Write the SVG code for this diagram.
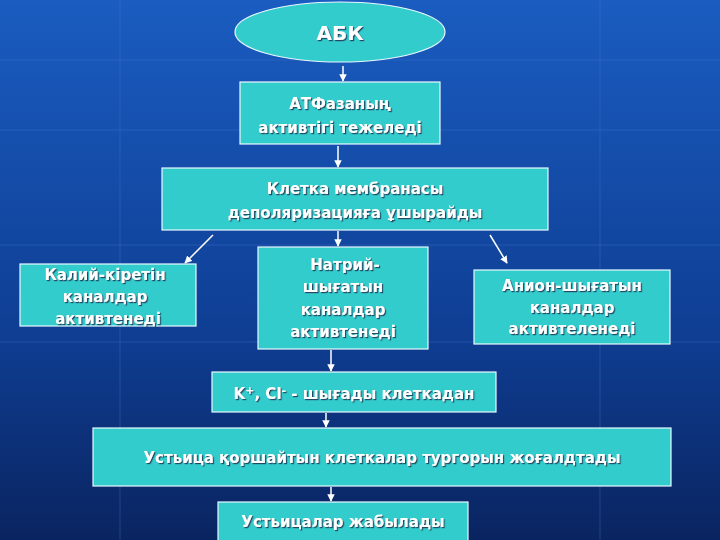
<svg xmlns="http://www.w3.org/2000/svg" width="720" height="540" viewBox="0 0 720 540">
<defs>
<linearGradient id="bg" x1="0" y1="0" x2="0" y2="1"><stop offset="0" stop-color="#1a5cc0"/><stop offset="0.6" stop-color="#0f3f95"/><stop offset="1" stop-color="#0a2460"/></linearGradient>
<marker id="ah" viewBox="0 0 10 10" refX="9" refY="5" markerWidth="5" markerHeight="5" orient="auto"><path d="M0,0 L10,5 L0,10 z" fill="#fff"/></marker>
<filter id="sh" x="-5%" y="-5%" width="110%" height="120%"><feDropShadow dx="1.2" dy="1.2" stdDeviation="0.3" flood-color="#1a3a5a" flood-opacity="0.9"/></filter>
</defs>
<style>
.b{fill:#33cccc;stroke:#e8f8ff;stroke-width:1.2}
.t{font-family:"DejaVu Sans",sans-serif;font-weight:bold;font-size:15px;fill:#fff;text-anchor:middle;filter:url(#sh)}
.c line{stroke:#fff;stroke-width:1.5;marker-end:url(#ah)}
.g line{stroke:#4a7ad0;stroke-width:0.7;opacity:0.5}
</style>
<rect width="720" height="540" fill="url(#bg)"/>
<g class="g"><line x1="0" y1="60" x2="720" y2="60"/><line x1="0" y1="130" x2="720" y2="130"/><line x1="0" y1="245" x2="720" y2="245"/><line x1="0" y1="342" x2="720" y2="342"/><line x1="120" y1="0" x2="120" y2="540"/><line x1="600" y1="0" x2="600" y2="540"/></g>
<g class="c">
<line x1="343" y1="66" x2="343" y2="81"/>
<line x1="338" y1="146" x2="338" y2="167"/>
<line x1="213" y1="235" x2="185" y2="263"/>
<line x1="338" y1="231" x2="338" y2="246"/>
<line x1="490" y1="235" x2="507" y2="263"/>
<line x1="331" y1="350" x2="331" y2="371"/>
<line x1="326" y1="413" x2="326" y2="427"/>
<line x1="331" y1="487" x2="331" y2="501"/>
</g>
<g id="abk"><ellipse class="b" cx="340" cy="32" rx="105" ry="30"/><text class="t" x="340" y="40" style="font-size:20px">АБК</text></g>
<g id="atf"><rect class="b" x="240" y="82" width="200" height="62"/><text class="t" x="340" y="109">АТФазаның</text><text class="t" x="340" y="133">активтігі  тежеледі</text></g>
<g id="kletka"><rect class="b" x="162" y="168" width="386" height="62"/><text class="t" x="355" y="194">Клетка мембранасы</text><text class="t" x="355" y="218">деполяризацияға  ұшырайды</text></g>
<g id="kaliy"><rect class="b" x="20" y="264" width="176" height="62"/><text class="t" x="105" y="280">Калий-кіретін</text><text class="t" x="105" y="302">каналдар</text><text class="t" x="108" y="324">активтенеді</text></g>
<g id="natriy"><rect class="b" x="258" y="247" width="170" height="102"/><text class="t" x="345" y="270">Натрий-</text><text class="t" x="343" y="292">шығатын</text><text class="t" x="343" y="315">каналдар</text><text class="t" x="343" y="337">активтенеді</text></g>
<g id="anion"><rect class="b" x="474" y="270" width="196" height="74"/><text class="t" x="572" y="291">Анион-шығатын</text><text class="t" x="572" y="313">каналдар</text><text class="t" x="572" y="334">активтеленеді</text></g>
<g id="kcl"><rect class="b" x="212" y="372" width="284" height="40"/><text class="t" x="354" y="399">K<tspan dy="-5" font-size="11">+</tspan><tspan dy="5">, Cl</tspan><tspan dy="-5" font-size="11">-</tspan><tspan dy="5">  - шығады клеткадан</tspan></text></g>
<g id="ustica"><rect class="b" x="93" y="428" width="578" height="58"/><text class="t" x="382" y="463">Устьица  қоршайтын клеткалар тургорын жоғалдтады</text></g>
<g id="final"><rect class="b" x="218" y="502" width="250" height="40"/><text class="t" x="343" y="527">Устьицалар жабылады</text></g>
</svg>
